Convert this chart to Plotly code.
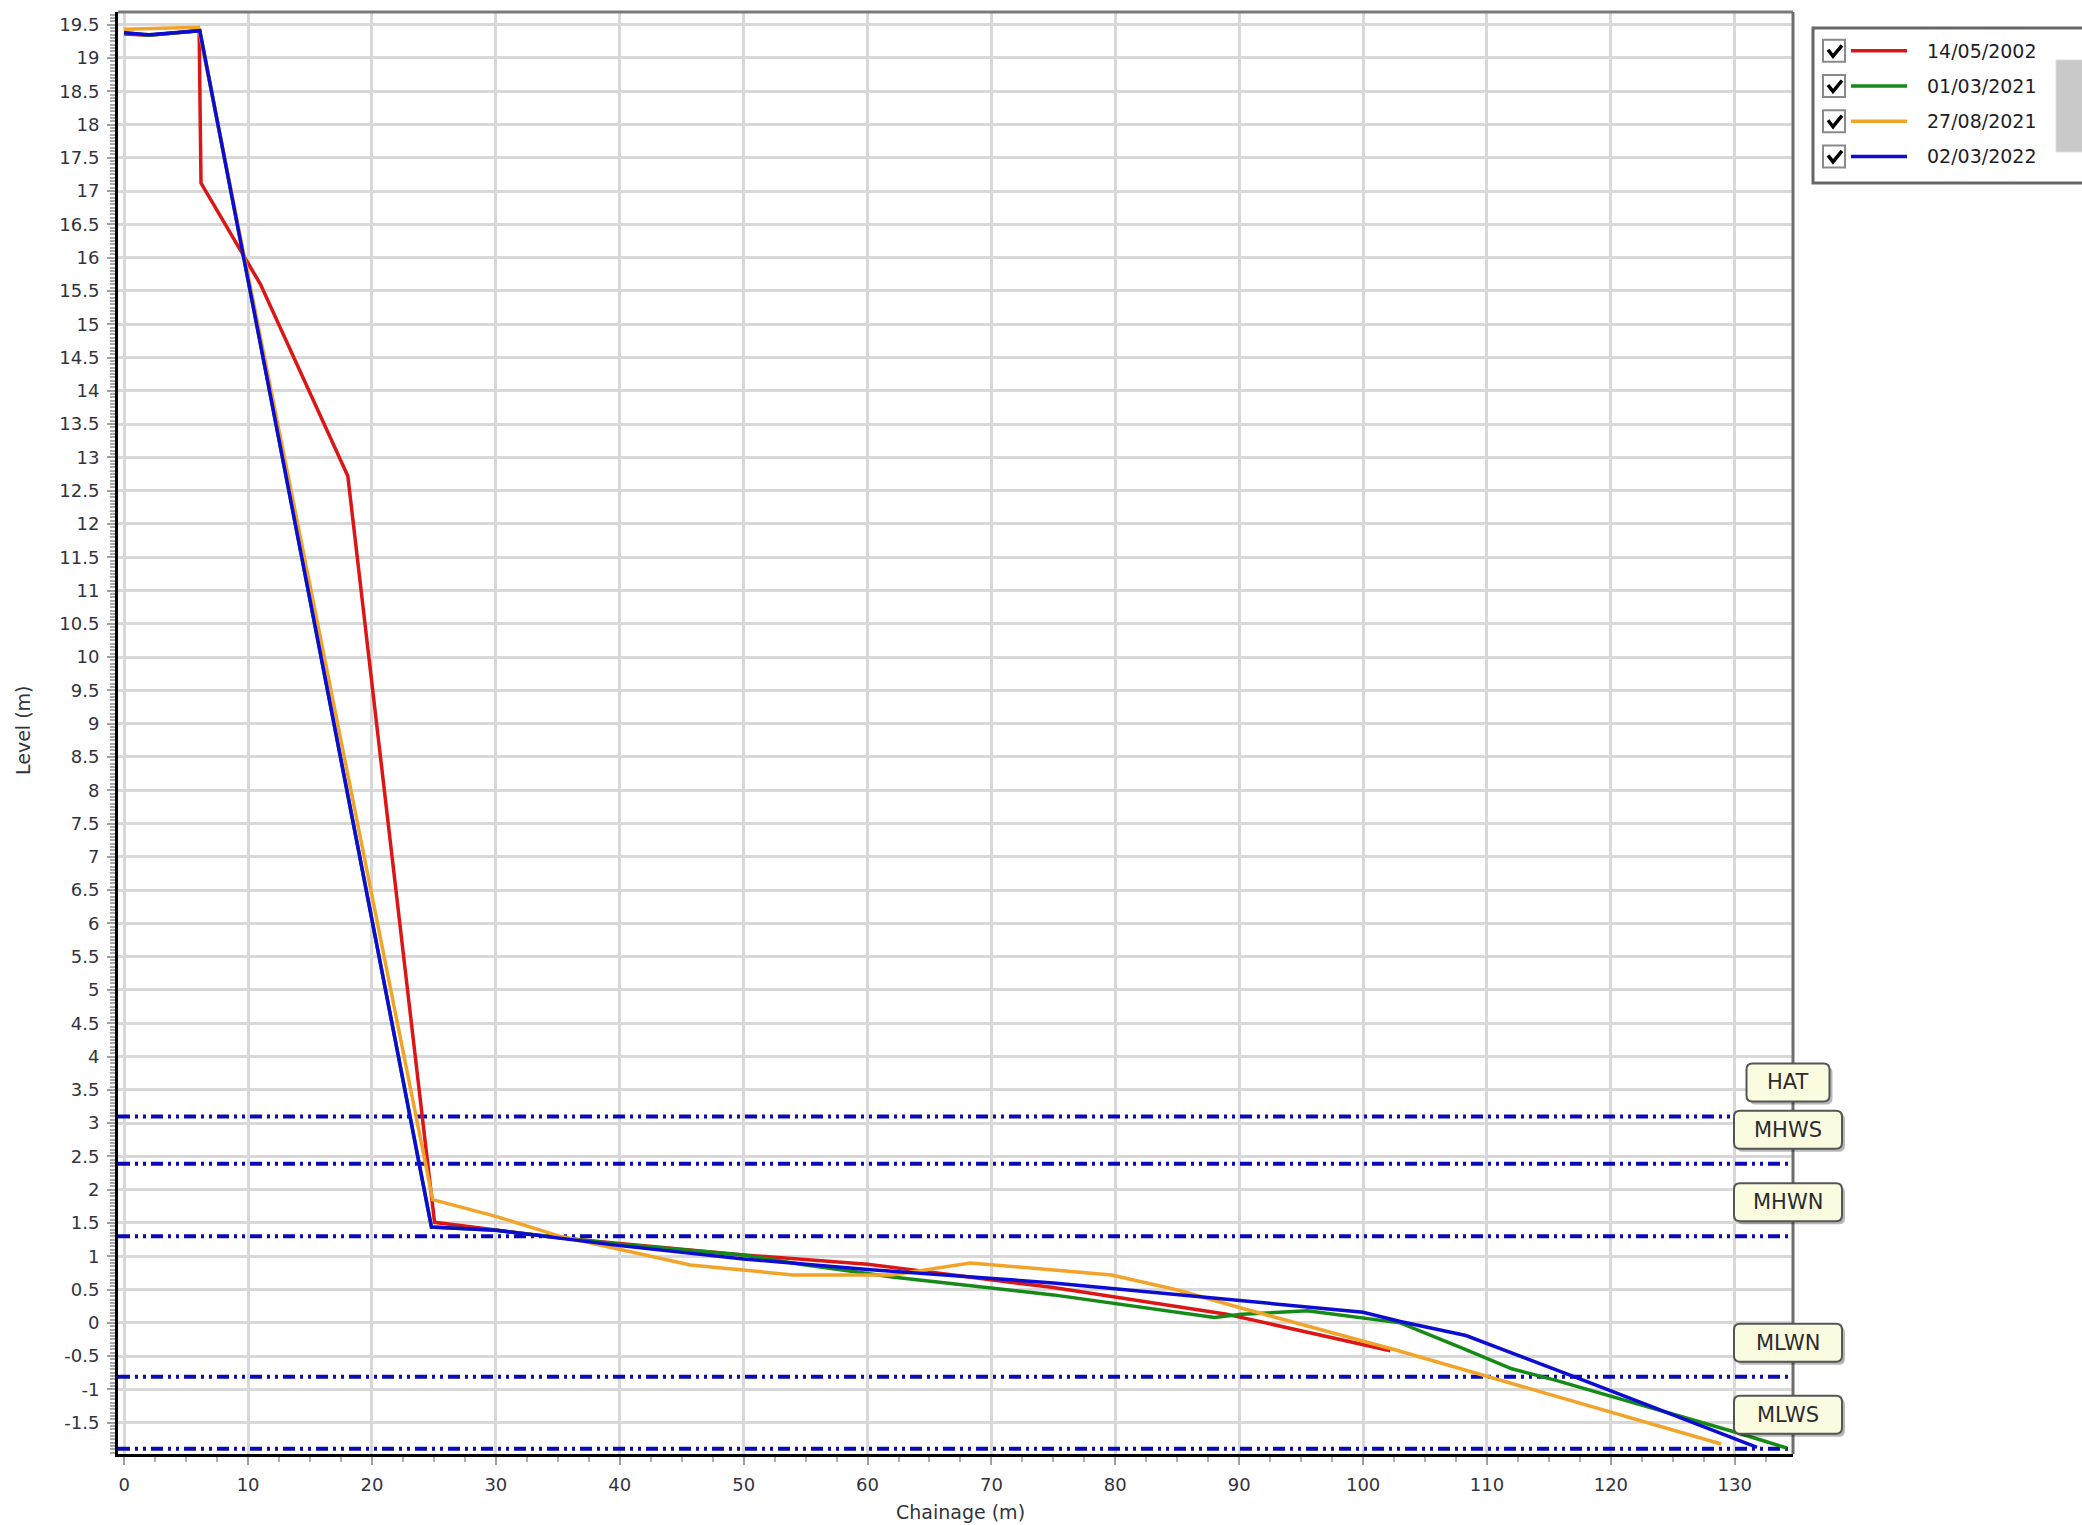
import numpy as np
import plotly.graph_objects as go

# ---- Beach profile surveys: chainage (m) vs level (m) ----
survey_dates = ["14/05/2002", "01/03/2021", "27/08/2021", "02/03/2022"]
survey_colors = ["#dc1616", "#168a16", "#f2a42a", "#0c0cd2"]

chainage_2002 = [0, 2, 6.05, 6.2, 11.0, 18.05, 25.05, 35, 50, 60, 75, 89, 102.2]
level_2002 = [19.36, 19.34, 19.41, 17.12, 15.6, 12.72, 1.51, 1.28, 1.02, 0.88, 0.53, 0.13, -0.42]

chainage_2021_03 = [0, 2, 6.1, 24.8, 30, 40, 50, 55, 62, 75, 88, 90.2, 95.5, 103, 108, 112, 115.5, 130, 134.2]
level_2021_03 = [19.38, 19.34, 19.41, 1.44, 1.39, 1.18, 1.02, 0.87, 0.69, 0.42, 0.08, 0.13, 0.18, 0.0,
                 -0.38, -0.69, -0.86, -1.64, -1.88]

chainage_2021_08 = [0, 6.0, 24.9, 30, 35.2, 40, 45.7, 54, 62, 68.3, 79.7, 85.1, 90, 102.5, 110, 128.9]
level_2021_08 = [19.43, 19.46, 1.85, 1.6, 1.3, 1.1, 0.87, 0.72, 0.72, 0.9, 0.72, 0.49, 0.23, -0.4, -0.8, -1.82]

chainage_2022 = [0, 2, 6.1, 24.8, 30, 40, 50, 60, 75, 90, 100, 103, 108.3, 117.6, 131.8]
level_2022 = [19.38, 19.35, 19.41, 1.44, 1.39, 1.16, 0.96, 0.80, 0.60, 0.33, 0.16, 0.02, -0.19, -0.85, -1.87]

# ---- Tidal datum levels (m) ----
tide_names = ["HAT", "MHWS", "MHWN", "MLWN", "MLWS"]
tide_levels = [3.1, 2.39, 1.3, -0.81, -1.89]

# ---- Axis ticks ----
x_range = [-0.5, 134.7]
y_range = [-1.97, 19.69]
x_tick_values = list(range(0, 131, 10))
y_tick_values = [float(v) for v in np.arange(-1.5, 19.51, 0.5)]
y_tick_labels = [f"{v:g}" for v in y_tick_values]

x_title = "Chainage (m)"
y_title = "Level (m)"

# ---- Canvas geometry ----
W, H = 2082, 1525
M_L, M_R, M_T, M_B = 118, 289, 12, 71
PW = W - M_L - M_R
PH = H - M_T - M_B
FONT = "DejaVu Sans"
TXT = "#333340"


def paper_x(px):
    return (px - M_L) / PW


def paper_y(py):
    return (H - M_B - py) / PH


fig = go.Figure()

# tidal datum lines spanning the full chainage axis (drawn beneath the profiles)
for name, lvl in zip(tide_names, tide_levels):
    fig.add_trace(go.Scatter(x=x_range, y=[lvl, lvl], mode="lines", name=name, showlegend=False,
                             hoverinfo="name+y",
                             line=dict(color="#0a0ab8", width=4, dash="12px,5px,3px,5px,3px,5px")))

series_x = [chainage_2002, chainage_2021_03, chainage_2021_08, chainage_2022]
series_y = [level_2002, level_2021_03, level_2021_08, level_2022]
for name, color, xs, ys in zip(survey_dates, survey_colors, series_x, series_y):
    fig.add_trace(go.Scatter(x=xs, y=ys, mode="lines", name=name,
                             line=dict(color=color, width=3.5), showlegend=False,
                             hoverinfo="x+y+name"))

shapes = []
annotations = []

# top and right frame of the plot area
shapes.append(dict(type="line", xref="paper", yref="paper", x0=0, x1=1, y0=1, y1=1,
                   line=dict(color="#7a7a7a", width=3)))
shapes.append(dict(type="line", xref="paper", yref="paper", x0=1, x1=1, y0=0, y1=1,
                   line=dict(color="#6e6e6e", width=3)))


def rounded_rect(cx, cy, w, h, r):
    x0, x1 = cx - w / 2, cx + w / 2
    y0, y1 = cy - h / 2, cy + h / 2
    return (f"M{x0 + r},{y0} L{x1 - r},{y0} Q{x1},{y0} {x1},{y0 + r} "
            f"L{x1},{y1 - r} Q{x1},{y1} {x1 - r},{y1} L{x0 + r},{y1} "
            f"Q{x0},{y1} {x0},{y1 - r} L{x0},{y0 + r} Q{x0},{y0} {x0 + r},{y0} Z")


# labelled boxes sitting on the right frame above each datum line
for name, lvl in zip(tide_names, tide_levels):
    bw = 83 if len(name) <= 3 else 108
    cx, cy = -5, 34
    common = dict(type="path", xref="paper", yref="y", xsizemode="pixel", ysizemode="pixel",
                  xanchor=1, yanchor=lvl, layer="above")
    shapes.append(dict(common, path=rounded_rect(cx + 3, cy - 3, bw, 38, 6),
                       fillcolor="rgba(0,0,0,0.28)", line=dict(width=0)))
    shapes.append(dict(common, path=rounded_rect(cx, cy, bw, 38, 6),
                       fillcolor="#fbfbe0", line=dict(color="#555555", width=2)))
    annotations.append(dict(text=name, xref="paper", yref="y", x=1, y=lvl, xshift=cx, yshift=cy,
                            showarrow=False, xanchor="center", yanchor="middle",
                            font=dict(family=FONT, size=21, color="#2b2b2b")))

# legend panel with check boxes
shapes.append(dict(type="rect", xref="paper", yref="paper",
                   x0=paper_x(1813), x1=paper_x(2100), y0=paper_y(28), y1=paper_y(183),
                   fillcolor="white", line=dict(color="#666666", width=3), layer="above"))
shapes.append(dict(type="rect", xref="paper", yref="paper",
                   x0=paper_x(2056), x1=paper_x(2100), y0=paper_y(60), y1=paper_y(152),
                   fillcolor="#c9c9c9", line=dict(color="#dddddd", width=1), layer="above"))
for i, (name, color) in enumerate(zip(survey_dates, survey_colors)):
    yc = 50.8 + 35.2 * i
    shapes.append(dict(type="rect", xref="paper", yref="paper",
                       x0=paper_x(1823), x1=paper_x(1845), y0=paper_y(yc - 11), y1=paper_y(yc + 11),
                       fillcolor="white", line=dict(color="#8a8a8a", width=2), layer="above"))
    tick_path = (f"M{paper_x(1828)},{paper_y(yc - 1)} L{paper_x(1833)},{paper_y(yc + 5.5)} "
                 f"L{paper_x(1842)},{paper_y(yc - 5.5)}")
    shapes.append(dict(type="path", xref="paper", yref="paper", path=tick_path,
                       line=dict(color="black", width=3.5), layer="above"))
    shapes.append(dict(type="line", xref="paper", yref="paper",
                       x0=paper_x(1851), x1=paper_x(1907), y0=paper_y(yc), y1=paper_y(yc),
                       line=dict(color=color, width=3.5), layer="above"))
    annotations.append(dict(text=name, xref="paper", yref="paper", x=paper_x(1925), y=paper_y(yc),
                            xanchor="left", yanchor="middle", showarrow=False,
                            font=dict(family=FONT, size=19, color="#1e1e28")))

# axis titles
annotations.append(dict(text=x_title, xref="paper", yref="paper", x=paper_x(960), y=paper_y(1512),
                        xanchor="center", yanchor="middle", showarrow=False,
                        font=dict(family=FONT, size=19, color=TXT)))
annotations.append(dict(text=y_title, xref="paper", yref="paper", x=paper_x(23), y=paper_y(730),
                        xanchor="center", yanchor="middle", showarrow=False, textangle=-90,
                        font=dict(family=FONT, size=19, color=TXT)))

fig.update_layout(
    width=W, height=H,
    margin=dict(l=M_L, r=M_R, t=M_T, b=M_B, pad=0),
    paper_bgcolor="white", plot_bgcolor="white",
    showlegend=False,
    font=dict(family=FONT, size=18, color=TXT),
    shapes=shapes, annotations=annotations,
    xaxis=dict(
        range=x_range, tickmode="array", tickvals=x_tick_values,
        ticks="outside", ticklen=8, tickwidth=2, tickcolor="#a0a0a0",
        ticklabelstandoff=4,
        minor=dict(dtick=2.5, tick0=0, ticks="outside", ticklen=5, tickwidth=2,
                   tickcolor="#b0b0b0", showgrid=False),
        showgrid=True, gridcolor="#d8d8d8", gridwidth=3,
        showline=True, linecolor="black", linewidth=3, zeroline=False,
        tickfont=dict(family=FONT, size=18, color=TXT),
    ),
    yaxis=dict(
        range=y_range, tickmode="array", tickvals=y_tick_values, ticktext=y_tick_labels,
        ticks="outside", ticklen=8, tickwidth=2, tickcolor="#a0a0a0",
        ticklabelstandoff=4,
        minor=dict(tickmode="linear", dtick=0.05, tick0=0, ticks="outside", ticklen=5, tickwidth=1.5,
                   tickcolor="#a8a8a8", showgrid=False),
        showgrid=True, gridcolor="#d8d8d8", gridwidth=3,
        showline=True, linecolor="black", linewidth=3, zeroline=False,
        tickfont=dict(family=FONT, size=18, color=TXT),
    ),
)

fig.write_html("out.html")
